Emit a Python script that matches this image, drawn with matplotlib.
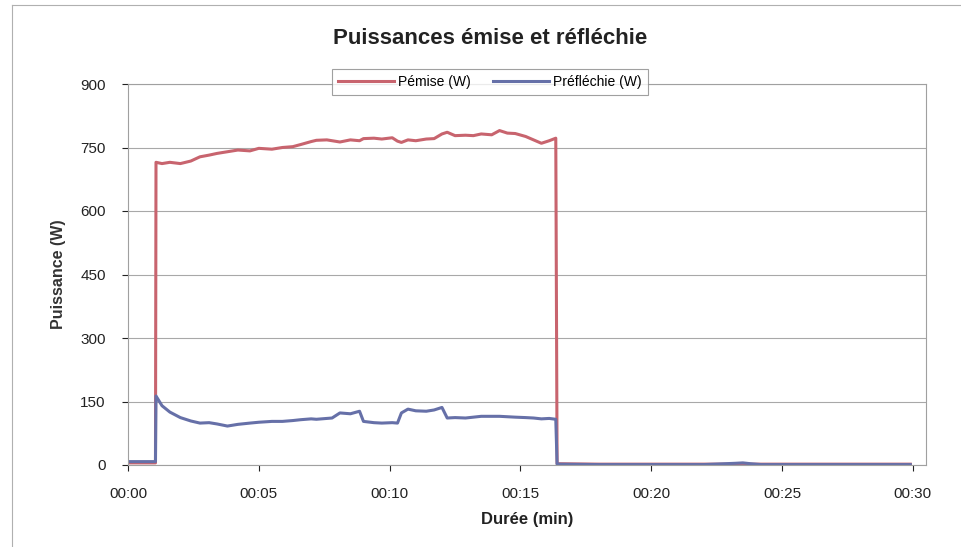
import matplotlib
matplotlib.use("Agg")
import matplotlib.pyplot as plt
from matplotlib.lines import Line2D

plt.rcParams['font.family'] = ['Liberation Sans', 'DejaVu Sans']

# time in minutes
t = [0, 1.05, 1.07, 1.3, 1.6, 2.0, 2.4, 2.75, 3.1, 3.4, 3.8, 4.2, 4.66, 5.0,
     5.5, 5.9, 6.3, 6.6, 7.0, 7.2, 7.6, 7.8, 8.1, 8.5, 8.85, 9.0, 9.4, 9.7,
     10.1, 10.3, 10.45, 10.7, 11.0, 11.4, 11.7, 12.0, 12.2, 12.5, 12.9, 13.2,
     13.5, 13.9, 14.2, 14.5, 14.8, 15.2, 15.5, 15.8, 16.1, 16.35, 16.4,
     18, 20, 22, 23.2, 23.5, 23.8, 24.2, 26, 28, 29.9]

p_emise = [5, 5, 715, 712, 715, 712, 718, 728, 732, 736, 740, 744, 742, 748,
           746, 750, 752, 757, 764, 767, 768, 766, 763, 768, 766, 771, 772, 770,
           773, 765, 762, 768, 766, 770, 771, 782, 786, 778, 779, 778,
           782, 780, 790, 784, 783, 776, 768, 760, 766, 772, 3,
           2, 2, 2, 2, 2, 2, 2, 2, 2, 2]

p_reflechie = [8, 8, 163, 140, 125, 112, 104, 99, 100, 97, 92, 96, 99, 101,
               103, 103, 105, 107, 109, 108, 110, 111, 123, 121, 127, 103, 100, 99,
               100, 99, 123, 132, 128, 127, 130, 136, 111, 112, 111, 113,
               115, 115, 115, 114, 113, 112, 111, 109, 110, 108, 2,
               1, 1, 1, 4, 5, 3, 1, 1, 1, 1]

xticks = [0, 5, 10, 15, 20, 25, 30]
xlabels = ['00:00', '00:05', '00:10', '00:15', '00:20', '00:25', '00:30']
yticks = [0, 150, 300, 450, 600, 750, 900]

red = '#C8646E'
blue = '#6670A8'

fig = plt.figure(figsize=(9.61, 5.47), dpi=100)
ax = fig.add_axes([128/961, 1-465/547, (926-128)/961, (465-84)/547])

ax.plot(t, p_emise, color=red, lw=2.2, label='Pémise (W)')
ax.plot(t, p_reflechie, color=blue, lw=2.2, label='Préfléchie (W)')

ax.set_xlim(0, 30.5)
ax.set_ylim(0, 900)
ax.set_xticks(xticks)
ax.set_xticklabels(xlabels)
ax.set_yticks(yticks)
ax.tick_params(labelsize=11, colors='#222222', length=4, width=0.8)
ax.tick_params(axis='x', pad=12)
ax.tick_params(axis='y', pad=12)
ax.yaxis.grid(True, color='#a8a8a8', lw=0.8)
ax.set_axisbelow(True)
for s in ax.spines.values():
    s.set_color('#a0a0a0')
    s.set_linewidth(0.8)

ax.set_xlabel('Durée (min)', fontsize=12, fontweight='bold', color='#222222', labelpad=8)
ax.set_ylabel('Puissance (W)', fontsize=11.5, fontweight='bold', color='#333333', labelpad=10)

fig.text(490/961, 1-38/547, 'Puissances émise et réfléchie', ha='center', va='center',
         fontsize=16, fontweight='bold', color='#222222')

leg = fig.legend(loc='center', bbox_to_anchor=(490/961, 1-82/547), ncol=2,
                 fontsize=10, frameon=True, fancybox=False, handlelength=4,
                 columnspacing=1.6, handletextpad=0.3, borderpad=0.45)
leg.get_frame().set_edgecolor('#888888')
leg.get_frame().set_linewidth(0.8)

# outer chart border
fig.add_artist(Line2D([12/961, 12/961], [0, 1-5/547], color='#b0b0b0', lw=0.8))
fig.add_artist(Line2D([12/961, 1], [1-5/547, 1-5/547], color='#b0b0b0', lw=0.8))

fig.savefig('out.png', dpi=100)
